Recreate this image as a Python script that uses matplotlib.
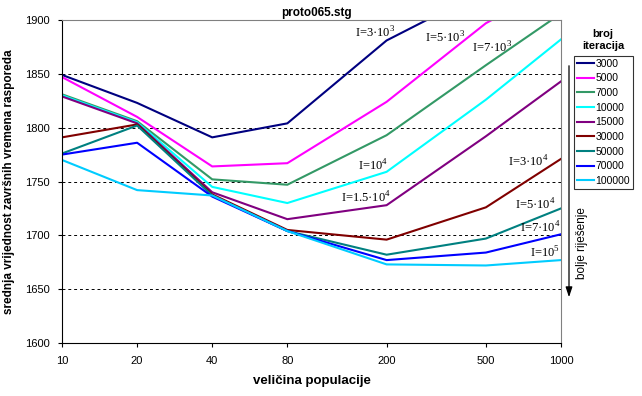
import numpy as np
import matplotlib
matplotlib.use("Agg")
import matplotlib.pyplot as plt

pop = [10, 20, 40, 80, 200, 500, 1000]
iters = ["3000", "5000", "7000", "10000", "15000", "30000", "50000", "70000", "100000"]

# mean final schedule time per iteration count
v3000   = [1849, 1823, 1791, 1804, 1881, 1928, 1955]
v5000   = [1847, 1810, 1764, 1767, 1824, 1897, 1935]
v7000   = [1831, 1806, 1752, 1747, 1793, 1858, 1906]
v10000  = [1830, 1805, 1745, 1730, 1759, 1826, 1882]
v15000  = [1829, 1804, 1740, 1715, 1728, 1792, 1843]
v30000  = [1791, 1803, 1738, 1705, 1696, 1726, 1771]
v50000  = [1776, 1802, 1737, 1704, 1682, 1697, 1725]
v70000  = [1775, 1786, 1736, 1704, 1677, 1684, 1701]
v100000 = [1770, 1742, 1737, 1704, 1673, 1672, 1677]
series = [v3000, v5000, v7000, v10000, v15000, v30000, v50000, v70000, v100000]

colors = ["#000080", "#ff00ff", "#339966", "#00ffff", "#800080",
          "#800000", "#008080", "#0000ff", "#00ccff"]

labels = ["I=3·10$^3$", "I=5·10$^3$", "I=7·10$^3$", "I=10$^4$", "I=1.5·10$^4$",
          "I=3·10$^4$", "I=5·10$^4$", "I=7·10$^4$", "I=10$^5$"]
label_pos = [(0.627, 0.960), (0.768, 0.944), (0.862, 0.913), (0.623, 0.548),
             (0.609, 0.449), (0.934, 0.560), (0.948, 0.427), (0.958, 0.356),
             (0.968, 0.279)]

plt.rcParams['font.family'] = ['Liberation Sans', 'DejaVu Sans']
plt.rcParams['mathtext.fontset'] = 'custom'
plt.rcParams['mathtext.rm'] = 'Liberation Serif'

fig = plt.figure(figsize=(6.42, 3.96), dpi=100)
ax = fig.add_axes([62/642, 1-343/396, (561-62)/642, (343-20)/396])

for vals, c, name in zip(series, colors, iters):
    ax.plot(pop, vals, color=c, lw=1.5, label=name)

ax.set_xscale("log")
ax.set_xlim(10, 1000)
ax.set_ylim(1600, 1900)
ax.set_xticks(pop)
ax.set_xticklabels([str(p) for p in pop])
ax.minorticks_off()
ax.set_yticks(np.arange(1600, 1901, 50))
ax.tick_params(labelsize=8, length=3, width=0.8, pad=6)
for y in [1650, 1700, 1750, 1800, 1850]:
    ax.axhline(y, color="black", ls=(0, (3, 3)), lw=0.7, zorder=0)

ax.spines["top"].set_color("#808080")
ax.spines["right"].set_color("#808080")

ax.set_title("proto065.stg", fontsize=8.5, fontweight="bold", pad=3, x=0.51)
ax.set_xlabel("veličina populacije", fontsize=9.5, fontweight="bold", labelpad=7)
ax.set_ylabel("srednja vrijednost završnih vremena rasporeda", fontsize=8.5,
              fontweight="bold")
ax.yaxis.set_label_coords(-0.094, 0.5)

for txt, (fx, fy) in zip(labels, label_pos):
    ax.text(fx, fy, txt, transform=ax.transAxes, ha="center", va="center",
            fontsize=9, family="Liberation Serif")

leg = fig.legend(loc="upper left", bbox_to_anchor=(574/642, 1-56/396),
                 fontsize=7.5, frameon=True, fancybox=False, edgecolor="black",
                 handlelength=1.7, handletextpad=0.1, labelspacing=0.45,
                 borderpad=0.25, borderaxespad=0)
leg.get_frame().set_linewidth(0.8)
fig.text(603/642, 1-40/396, "broj\niteracija", ha="center", va="center",
         fontsize=8, fontweight="bold", linespacing=1.3)

ax.annotate("", xy=(569/642, 1-300/396), xytext=(569/642, 1-63/396),
            xycoords="figure fraction", textcoords="figure fraction",
            arrowprops=dict(arrowstyle="-|>,head_width=0.2,head_length=0.6",
                            color="black", lw=0.9))
fig.text(582/642, 1-243/396, "bolje riješenje", rotation=90, ha="center",
         va="center", fontsize=8.5)

fig.savefig("out.png", dpi=100)
